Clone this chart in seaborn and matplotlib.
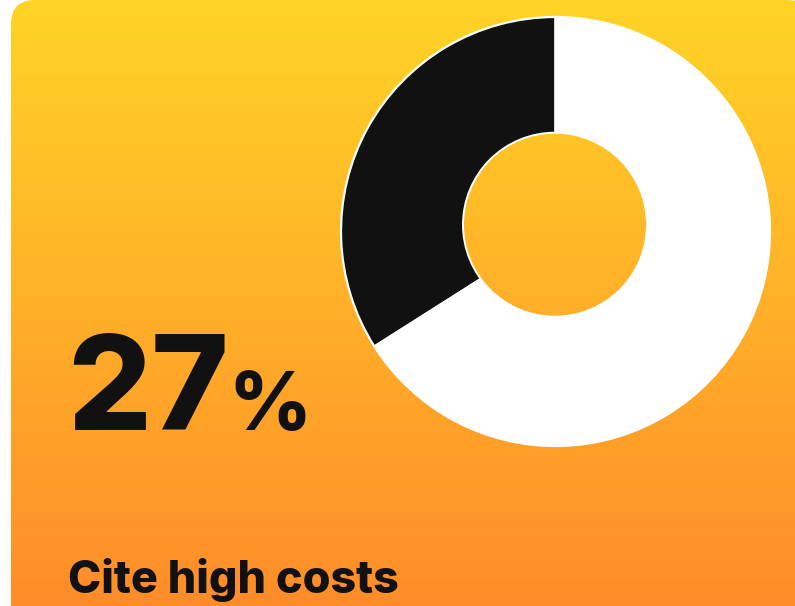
import numpy as np
import matplotlib
matplotlib.use("Agg")
import matplotlib.pyplot as plt
from matplotlib.patches import FancyBboxPatch, Circle
import seaborn as sns

# ---- data ----
slice_labels = ["Cite high costs", "Other"]
slice_values = [34, 66]
slice_colors = ["#111111", "#FFFFFF"]
headline_value = "27"
headline_unit = "%"
caption = "Cite high costs"

sns.set_theme(style="white")
plt.rcParams["font.family"] = ["Inter", "DejaVu Sans"]

W, H = 795, 606
fig = plt.figure(figsize=(W / 100, H / 100), dpi=100, facecolor="white")

# gradient colours (top -> bottom)
top = np.array([255, 212, 38]) / 255
bot = np.array([255, 140, 42]) / 255
t = np.linspace(0, 1, H)[:, None, None]
grad = top[None, None, :] * (1 - t) + bot[None, None, :] * t

# background card
bg = fig.add_axes([0, 0, 1, 1])
bg.set_xlim(0, W)
bg.set_ylim(H, 0)
bg.axis("off")
card = FancyBboxPatch((11, 0), 800, 700, boxstyle="round,pad=0,rounding_size=24",
                      transform=bg.transData, facecolor="none", edgecolor="none")
bg.add_patch(card)
im = bg.imshow(grad, extent=(0, W, H, 0), aspect="auto", interpolation="bilinear")
im.set_clip_path(card)

# donut
cx, cy, R = 555.5, 231.5, 214.5
pad = 6
axp = fig.add_axes([(cx - R - pad) / W, (H - cy - R - pad) / H,
                    (2 * R + 2 * pad) / W, (2 * R + 2 * pad) / H])
axp.pie(slice_values, colors=slice_colors, startangle=90, counterclock=True,
        radius=1.0, wedgeprops=dict(edgecolor="white", linewidth=1.6))
lim = (R + pad) / R
axp.set_xlim(-lim, lim)
axp.set_ylim(-lim, lim)
axp.set_aspect("equal")
axp.axis("off")

# hole showing the gradient
ov = fig.add_axes([0, 0, 1, 1])
ov.set_xlim(0, W)
ov.set_ylim(H, 0)
ov.axis("off")
ov.patch.set_alpha(0)
hole = Circle((555, 224.7), 92, transform=ov.transData, facecolor="none", edgecolor="none")
ov.add_patch(hole)
im2 = ov.imshow(grad, extent=(0, W, H, 0), aspect="auto", interpolation="bilinear")
im2.set_clip_path(hole)
ov.add_patch(Circle((555, 224.7), 92, facecolor="none", edgecolor="white", linewidth=1.4))
ov.set_xlim(0, W)
ov.set_ylim(H, 0)

# texts
ov.text(67, 430, headline_value, fontsize=95, fontweight=800, color="#111111",
        ha="left", va="baseline")
ov.text(228, 430, headline_unit, fontsize=58, fontweight=800, color="#111111",
        ha="left", va="baseline")
ov.text(68, 593, caption, fontsize=32.3, fontweight=800, color="#111111",
        ha="left", va="baseline")

fig.savefig("out.png", dpi=100, facecolor="white")
